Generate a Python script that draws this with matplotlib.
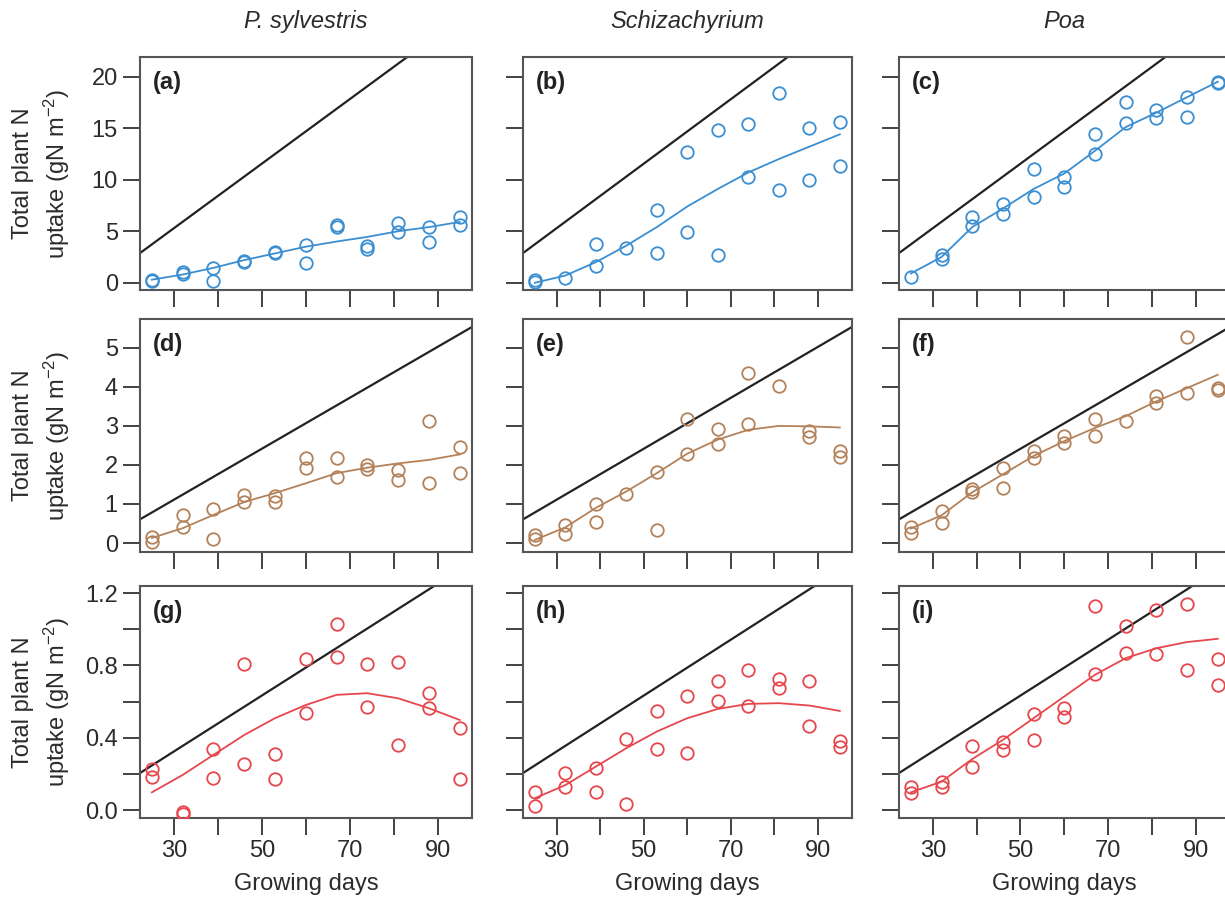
import numpy as np
import matplotlib
matplotlib.use('Agg')
import matplotlib.pyplot as plt
from matplotlib.ticker import FixedLocator

plt.rcParams['font.family'] = ['Liberation Sans', 'DejaVu Sans']
plt.rcParams['mathtext.fontset'] = 'custom'
plt.rcParams['mathtext.rm'] = 'Liberation Sans'
plt.rcParams['mathtext.it'] = 'Liberation Sans:italic'
plt.rcParams['mathtext.bf'] = 'Liberation Sans:bold'

nan = np.nan
days = [25, 32, 39, 46, 53, 60, 67, 74, 81, 88, 95]
species = ['P. sylvestris', 'Schizachyrium', 'Poa']
panel_labels = ['(a)', '(b)', '(c)', '(d)', '(e)', '(f)', '(g)', '(h)', '(i)']

# replicate 1 / replicate 2 observations and fitted curve per panel
a1 = [0.3, 0.9, 1.4, 2.1, 3.0, 3.7, 5.6, 3.6, 5.8, 5.4, 6.4]
a2 = [0.15, 1.0, 0.2, 2.0, 2.9, 1.9, 5.4, 3.3, 4.9, 4.0, 5.6]
a_fit = [0.3, 0.8, 1.45, 2.2, 2.85, 3.5, 4.0, 4.45, 5.0, 5.4, 5.9]

b1 = [0.3, 0.5, 3.8, 3.4, 7.1, 12.7, 14.8, 15.4, 18.4, 15.0, 15.6]
b2 = [0.1, nan, 1.6, nan, 2.9, 4.9, 2.7, 10.3, 9.0, 10.0, 11.3]
b_fit = [0.0, 0.7, 2.0, 3.6, 5.4, 7.4, 9.1, 10.7, 12.0, 13.2, 14.4]

c1 = [0.6, 2.7, 6.4, 7.6, 11.0, 10.3, 14.4, 17.5, 16.8, 18.0, 19.5]
c2 = [nan, 2.3, 5.5, 6.7, 8.3, 9.3, 12.5, 15.5, 16.0, 16.1, 19.4]
c_fit = [0.9, 2.5, 5.4, 7.2, 9.1, 10.6, 12.8, 15.1, 16.5, 18.0, 19.5]

d1 = [0.15, 0.71, 0.87, 1.22, 1.21, 2.17, 2.19, 2.0, 1.87, 3.13, 2.47]
d2 = [0.03, 0.41, 0.11, 1.05, 1.06, 1.93, 1.70, 1.9, 1.62, 1.53, 1.79]
d_fit = [0.13, 0.38, 0.72, 1.05, 1.28, 1.53, 1.79, 1.93, 2.04, 2.13, 2.27]

e1 = [0.2, 0.47, 0.99, 1.25, 1.81, 3.19, 2.91, 4.35, 4.03, 2.88, 2.37]
e2 = [0.11, 0.24, 0.55, nan, 0.33, 2.28, 2.55, 3.05, nan, 2.72, 2.21]
e_fit = [0.08, 0.4, 0.9, 1.32, 1.79, 2.29, 2.65, 2.9, 3.0, 2.99, 2.96]

f1 = [0.42, 0.81, 1.38, 1.92, 2.36, 2.75, 3.17, 3.13, 3.77, 5.27, 3.98]
f2 = [0.25, 0.52, 1.32, 1.42, 2.17, 2.56, 2.75, nan, 3.58, 3.84, 3.92]
f_fit = [0.37, 0.71, 1.3, 1.76, 2.23, 2.61, 2.95, 3.25, 3.63, 3.97, 4.31]

g1 = [0.227, -0.01, 0.336, 0.809, 0.308, 0.836, 1.03, 0.809, 0.816, 0.646, 0.452]
g2 = [0.185, -0.02, 0.179, 0.253, 0.170, 0.535, 0.849, 0.572, 0.36, 0.567, 0.172]
g_fit = [0.098, 0.194, 0.305, 0.415, 0.508, 0.581, 0.637, 0.646, 0.618, 0.563, 0.498]

h1 = [0.10, 0.203, 0.231, 0.391, 0.548, 0.628, 0.714, 0.772, 0.726, 0.716, 0.384]
h2 = [0.024, 0.129, 0.098, 0.031, 0.336, 0.314, 0.605, 0.578, 0.674, 0.465, 0.347]
h_fit = [0.065, 0.138, 0.24, 0.342, 0.434, 0.508, 0.559, 0.587, 0.591, 0.578, 0.548]

i1 = [0.129, 0.157, 0.356, 0.375, 0.530, 0.563, 1.126, 1.019, 1.104, 1.139, 0.834]
i2 = [0.096, 0.126, 0.236, 0.332, 0.388, 0.513, 0.751, 0.871, 0.864, 0.775, 0.692]
i_fit = [0.098, 0.157, 0.282, 0.388, 0.508, 0.628, 0.748, 0.84, 0.895, 0.929, 0.947]

# reference (black) line per row: slope and intercept
ref_slope = [0.313, 0.0653, 0.01546]
ref_intercept = [-4.1, -0.85, -0.14]

row_colors = ['#3a8ed2', '#b3825a', '#e6474c']
row_ylim = [(-0.7, 21.9), (-0.23, 5.74), (-0.044, 1.239)]
row_yticks = [[0, 5, 10, 15, 20], [0, 1, 2, 3, 4, 5], [0.0, 0.2, 0.4, 0.6, 0.8, 1.0, 1.2]]
row_yticklabels = [['0', '5', '10', '15', '20'], ['0', '1', '2', '3', '4', '5'],
                   ['0.0', '', '0.4', '', '0.8', '', '1.2']]
xticks = [30, 40, 50, 60, 70, 80, 90]
xticklabels = ['30', '', '50', '', '70', '', '90']

panels = [[(a1, a2, a_fit), (b1, b2, b_fit), (c1, c2, c_fit)],
          [(d1, d2, d_fit), (e1, e2, e_fit), (f1, f2, f_fit)],
          [(g1, g2, g_fit), (h1, h2, h_fit), (i1, i2, i_fit)]]

W, H = 1225, 898
fig = plt.figure(figsize=(W / 100, H / 100), dpi=100)

col_left = [140, 523, 899]
col_width = [332, 329, 331]
row_top = [57, 319, 586]
row_bottom = [290, 552, 818]

FS = 17
TXT = '#2b2b2b'
for r in range(3):
    for c in range(3):
        l = col_left[c] / W
        b = 1 - row_bottom[r] / H
        w = col_width[c] / W
        h = (row_bottom[r] - row_top[r]) / H
        ax = fig.add_axes([l, b, w, h])
        rep1, rep2, fit = panels[r][c]
        col = row_colors[r]
        ax.axline((0, ref_intercept[r]), slope=ref_slope[r], color='#222222', lw=1.6, zorder=2)
        ax.plot(days, fit, '-', color=col, lw=1.3, zorder=3)
        for rep in (rep1, rep2):
            ax.plot(days, rep, 'o', mfc='none', mec=col, ms=9, mew=1.3, zorder=4)
        ax.set_xlim(22.3, 97.8)
        ax.set_ylim(*row_ylim[r])
        ax.xaxis.set_major_locator(FixedLocator(xticks))
        ax.yaxis.set_major_locator(FixedLocator(row_yticks[r]))
        if r == 2:
            ax.set_xticklabels(xticklabels)
            ax.set_xlabel('Growing days', fontsize=FS, labelpad=8, color=TXT)
        else:
            ax.set_xticklabels([])
        if c == 0:
            ax.set_yticklabels(row_yticklabels[r])
        else:
            ax.set_yticklabels([])
        ax.tick_params(direction='out', length=12, width=1.3, labelsize=FS,
                       colors='#333333', labelcolor=TXT, pad=4)
        for sp in ax.spines.values():
            sp.set_color('#555555')
            sp.set_linewidth(1.5)
        ax.text(0.038, 0.94, panel_labels[r * 3 + c], transform=ax.transAxes,
                fontsize=FS, fontweight='bold', va='top', ha='left', color='#222222')
        if r == 0:
            ax.set_title(species[c], fontsize=FS, style='italic', pad=21, color=TXT)

for r in range(3):
    yc = 1 - (row_top[r] + row_bottom[r]) / 2 / H
    fig.text(42 / W, yc, 'Total plant N\nuptake (gN m$^{\\mathregular{-2}}$)', rotation=90,
             ha='center', va='center', fontsize=FS, linespacing=1.3, color=TXT)

fig.savefig('out.png', dpi=100)
